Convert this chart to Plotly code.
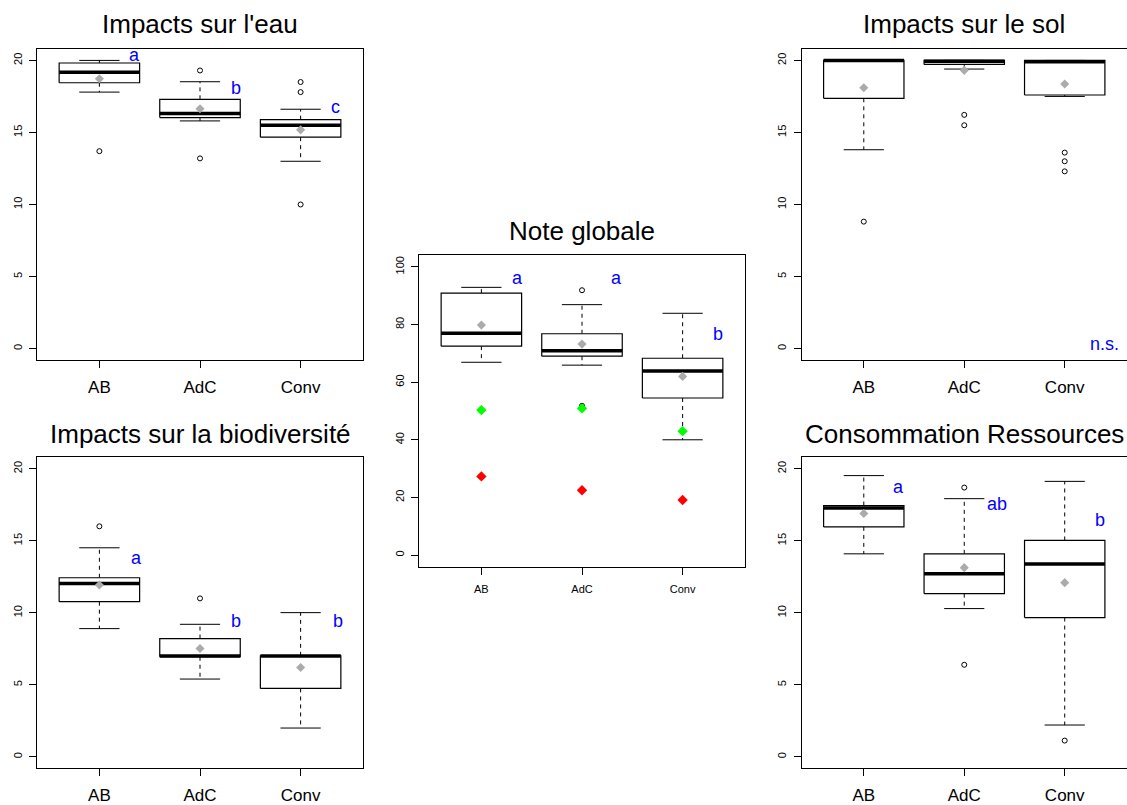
import plotly.graph_objects as go

W, H = 1127, 805
groups = ["AB", "AdC", "Conv"]

# ---- Impacts sur l'eau ----
eau_lo = [17.8, 15.8, 13.0]
eau_q1 = [18.45, 16.03, 14.67]
eau_med = [19.17, 16.31, 15.5]
eau_q3 = [19.82, 17.3, 15.89]
eau_hi = [20.0, 18.52, 16.61]
eau_mean = [18.73, 16.65, 15.18]
eau_out = [[13.7], [19.3, 13.2], [18.5, 17.8, 10.0]]
eau_letters = ["a", "b", "c"]
eau_letter_x = [1.35, 2.36, 3.35]
eau_letter_y = [20.4, 18.1, 16.8]

# ---- Note globale ----
glob_lo = [66.9, 65.9, 40.0]
glob_q1 = [72.5, 69.0, 54.5]
glob_med = [77.0, 70.9, 63.9]
glob_q3 = [90.9, 76.8, 68.3]
glob_hi = [92.9, 86.9, 83.9]
glob_mean = [79.8, 73.2, 62.0]
glob_out = [[], [91.9, 51.8], []]
glob_green = [50.3, 50.9, 43.0]
glob_red = [27.3, 22.5, 19.1]
glob_letters = ["a", "a", "b"]
glob_letter_x = [1.355, 2.34, 3.35]
glob_letter_y = [96.2, 96.2, 76.6]

# ---- Impacts sur le sol ----
sol_lo = [13.8, 19.4, 17.5]
sol_q1 = [17.37, 19.72, 17.6]
sol_med = [20.0, 19.95, 19.9]
sol_q3 = [20.0, 20.0, 20.0]
sol_hi = [20.0, 20.0, 20.0]
sol_mean = [18.1, 19.31, 18.36]
sol_out = [[8.81], [16.22, 15.5], [13.6, 13.0, 12.3]]
sol_letters = ["n.s."]
sol_letter_x = [3.4]
sol_letter_y = [0.3]

# ---- Impacts sur la biodiversité ----
bio_lo = [8.9, 5.4, 2.0]
bio_q1 = [10.77, 6.95, 4.75]
bio_med = [12.04, 7.0, 7.0]
bio_q3 = [12.43, 8.21, 7.01]
bio_hi = [14.51, 9.2, 10.01]
bio_mean = [11.93, 7.52, 6.2]
bio_out = [[16.0], [11.0], []]
bio_letters = ["a", "b", "b"]
bio_letter_x = [1.365, 2.36, 3.375]
bio_letter_y = [13.8, 9.4, 9.4]

# ---- Consommation Ressources ----
res_lo = [14.09, 10.29, 2.21]
res_q1 = [15.96, 11.33, 9.67]
res_med = [17.28, 12.71, 13.38]
res_q3 = [17.44, 14.09, 15.02]
res_hi = [19.52, 17.92, 19.12]
res_mean = [16.89, 13.13, 12.09]
res_out = [[], [18.69, 6.39], [1.13]]
res_letters = ["a", "ab", "b"]
res_letter_x = [1.35, 2.33, 3.355]
res_letter_y = [18.73, 17.53, 16.47]

titles = ["Impacts sur l'eau", "Note globale", "Impacts sur le sol",
          "Impacts sur la biodiversité", "Consommation Ressources"]

FONT = "Liberation Sans, Arial, Helvetica, sans-serif"
BOXW = 0.4
CAPW = 0.2

fig = go.Figure()


def ax_names(k):
    return ("x" if k == 1 else f"x{k}"), ("y" if k == 1 else f"y{k}")


def add_panel(k, lo, q1, med, q3, hi, mean, out):
    xa, ya = ax_names(k)
    pos = [i + 1 for i in range(len(groups))]
    # whiskers (dashed)
    wx, wy = [], []
    for p, a, b, c, d in zip(pos, lo, q1, q3, hi):
        wx += [p, p, None, p, p, None]
        wy += [c, d, None, b, a, None]
    fig.add_trace(go.Scatter(x=wx, y=wy, xaxis=xa, yaxis=ya, mode="lines",
                             line=dict(color="black", width=1, dash="4px,4px"),
                             hoverinfo="skip", showlegend=False))
    # caps
    cx, cy = [], []
    for p, a, d in zip(pos, lo, hi):
        cx += [p - CAPW, p + CAPW, None, p - CAPW, p + CAPW, None]
        cy += [d, d, None, a, a, None]
    fig.add_trace(go.Scatter(x=cx, y=cy, xaxis=xa, yaxis=ya, mode="lines",
                             line=dict(color="black", width=1),
                             hoverinfo="skip", showlegend=False))
    # boxes
    for p, b, c in zip(pos, q1, q3):
        fig.add_trace(go.Scatter(x=[p - BOXW, p + BOXW, p + BOXW, p - BOXW, p - BOXW],
                                 y=[b, b, c, c, b], xaxis=xa, yaxis=ya, mode="lines",
                                 fill="toself", fillcolor="white",
                                 line=dict(color="black", width=1.2),
                                 hoverinfo="skip", showlegend=False))
    # medians
    mx, my = [], []
    for p, m in zip(pos, med):
        mx += [p - BOXW, p + BOXW, None]
        my += [m, m, None]
    fig.add_trace(go.Scatter(x=mx, y=my, xaxis=xa, yaxis=ya, mode="lines",
                             line=dict(color="black", width=3.5),
                             hoverinfo="skip", showlegend=False))
    # outliers
    ox, oy = [], []
    for p, vals in zip(pos, out):
        for v in vals:
            ox.append(p)
            oy.append(v)
    if ox:
        fig.add_trace(go.Scatter(x=ox, y=oy, xaxis=xa, yaxis=ya, mode="markers",
                                 marker=dict(symbol="circle-open", size=5,
                                             color="black", line=dict(width=1)),
                                 hoverinfo="skip", showlegend=False))
    # means
    fig.add_trace(go.Scatter(x=pos, y=mean, xaxis=xa, yaxis=ya, mode="markers",
                             marker=dict(symbol="diamond", size=7, color="#ABABAB",
                                         line=dict(width=0)),
                             hoverinfo="skip", showlegend=False))


def add_extra_points(k, vals, color):
    xa, ya = ax_names(k)
    pos = [i + 1 for i in range(len(groups))]
    fig.add_trace(go.Scatter(x=pos, y=vals, xaxis=xa, yaxis=ya, mode="markers",
                             marker=dict(symbol="diamond", size=8, color=color,
                                         line=dict(width=0)),
                             hoverinfo="skip", showlegend=False))


def add_letters(k, letters, lx, ly):
    xa, ya = ax_names(k)
    for t, x, y in zip(letters, lx, ly):
        fig.add_annotation(x=x, y=y, xref=xa, yref=ya, text=t, showarrow=False,
                           font=dict(family=FONT, size=18, color="#0000FF"),
                           xanchor="center", yanchor="middle")


add_panel(1, eau_lo, eau_q1, eau_med, eau_q3, eau_hi, eau_mean, eau_out)
add_letters(1, eau_letters, eau_letter_x, eau_letter_y)

add_panel(2, glob_lo, glob_q1, glob_med, glob_q3, glob_hi, glob_mean, glob_out)
add_extra_points(2, glob_green, "#00FF00")
add_extra_points(2, glob_red, "#FF0000")
add_letters(2, glob_letters, glob_letter_x, glob_letter_y)

add_panel(3, sol_lo, sol_q1, sol_med, sol_q3, sol_hi, sol_mean, sol_out)
add_letters(3, sol_letters, sol_letter_x, sol_letter_y)

add_panel(4, bio_lo, bio_q1, bio_med, bio_q3, bio_hi, bio_mean, bio_out)
add_letters(4, bio_letters, bio_letter_x, bio_letter_y)

add_panel(5, res_lo, res_q1, res_med, res_q3, res_hi, res_mean, res_out)
add_letters(5, res_letters, res_letter_x, res_letter_y)

# frames in pixels: (left, top, right, bottom)
frames = {
    1: (37, 49, 363, 361),
    2: (419, 256, 745, 568),
    3: (801.5, 49, 1127, 361),
    4: (37, 458.3, 363, 770.3),
    5: (801.5, 458.3, 1127, 770.3),
}
title_y = {1: 24, 2: 231.5, 3: 24, 4: 435, 5: 435}

layout = dict(width=W, height=H, margin=dict(l=0, r=0, t=0, b=0),
              paper_bgcolor="white", plot_bgcolor="white", showlegend=False,
              font=dict(family=FONT, color="black"))

for k, (l, t, r, b) in frames.items():
    xk = "xaxis" if k == 1 else f"xaxis{k}"
    yk = "yaxis" if k == 1 else f"yaxis{k}"
    _, ya = ax_names(k)
    xa, _ = ax_names(k)
    small = (k == 2)
    if small:
        yr = [-4, 104]
        yt = [0, 20, 40, 60, 80, 100]
    else:
        yr = [-0.8, 20.8]
        yt = [0, 5, 10, 15, 20]
    layout[xk] = dict(domain=[l / W, min(r / W, 1.0)], anchor=ya, range=[0.38, 3.62],
                      tickmode="array", tickvals=[1, 2, 3], ticktext=groups,
                      ticks="outside", ticklen=7, tickwidth=1, tickcolor="black",
                      showline=True, linecolor="black", linewidth=1, mirror=True,
                      showgrid=False, zeroline=False, fixedrange=True,
                      ticklabelstandoff=4 if not small else 5,
                      tickfont=dict(family=FONT, size=11 if small else 17, color="black"))
    layout[yk] = dict(domain=[1 - b / H, 1 - t / H], anchor=xa, range=yr,
                      tickmode="array", tickvals=yt, tickangle=-90,
                      ticks="outside", ticklen=7, tickwidth=1, tickcolor="black",
                      showline=True, linecolor="black", linewidth=1,
                      mirror=(k not in (3, 5)),
                      showgrid=False, zeroline=False, fixedrange=True,
                      ticklabelstandoff=3,
                      tickfont=dict(family=FONT, size=11, color="black"))
    fig.add_annotation(x=0.5, y=1 - title_y[k] / H, xref=f"{xa} domain", yref="paper",
                       text=titles[k - 1], showarrow=False, xanchor="center",
                       yanchor="middle", font=dict(family=FONT, size=26, color="black"))

fig.update_layout(**layout)
fig.write_html("out.html", config={"displayModeBar": False},
               post_script="document.body.style.margin='0';document.body.style.overflow='hidden';")
